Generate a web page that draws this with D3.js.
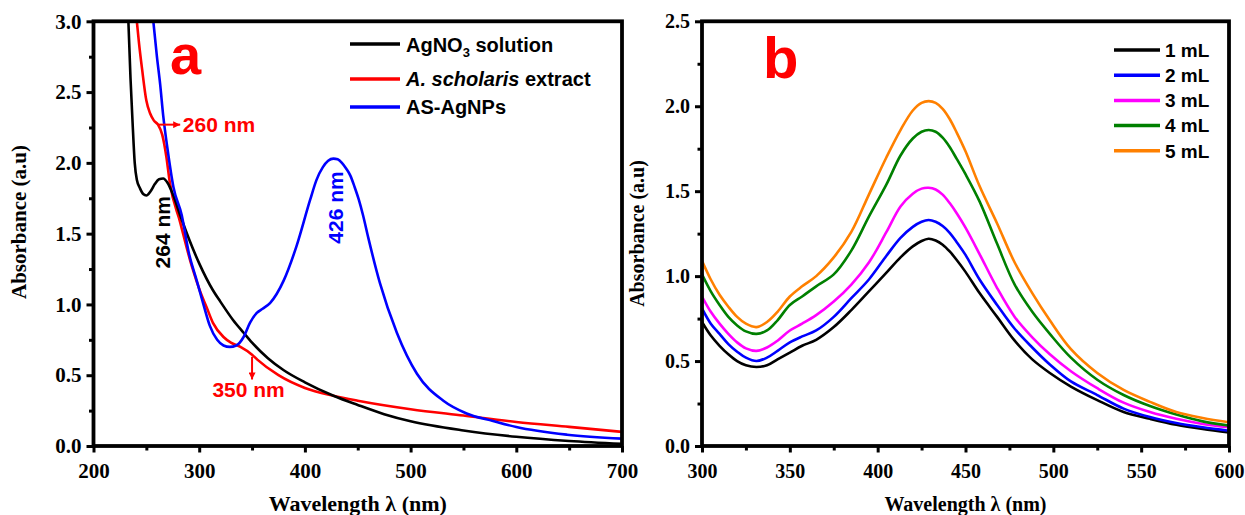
<!DOCTYPE html>
<html>
<head>
<meta charset="utf-8">
<script src="https://cdn.jsdelivr.net/npm/d3@7"></script>
<style>
  body { margin: 0; background: #fff; }
</style>
</head>
<body>
<svg id="chart" width="1245" height="515"></svg>
<script>
// ---- panel a : spectra of precursor, extract and nanoparticles ----
const waveAgNO3 = [231, 233, 235, 237, 239, 241, 244, 247, 250, 254, 258, 262, 266, 270, 275, 282, 291, 300, 313, 320, 332, 342, 350, 365, 380, 400, 427, 450, 475, 500, 550, 600, 650, 700];
const absAgNO3 = [3.5, 3.0, 2.6, 2.28, 2.0, 1.88, 1.82, 1.78, 1.77, 1.80, 1.85, 1.885, 1.89, 1.86, 1.78, 1.63, 1.45, 1.29, 1.10, 1.02, 0.89, 0.80, 0.73, 0.62, 0.535, 0.45, 0.355, 0.29, 0.225, 0.175, 0.11, 0.065, 0.035, 0.015];

const waveExtract = [236, 241, 243, 246, 250, 253.5, 257, 261, 265, 269, 272, 282, 293, 301, 307, 313, 323, 330, 339, 350, 355, 375, 400, 427, 450, 500, 550, 600, 650, 700];
const absExtract = [3.4, 3.0, 2.85, 2.66, 2.44, 2.35, 2.30, 2.27, 2.20, 2.04, 1.87, 1.58, 1.27, 1.09, 0.98, 0.87, 0.77, 0.73, 0.70, 0.645, 0.61, 0.50, 0.41, 0.355, 0.32, 0.26, 0.215, 0.17, 0.135, 0.10];

const waveAgNPs = [252, 256.6, 260, 263, 266, 270, 275.6, 283.5, 290, 298, 304, 310, 317, 323, 329, 335, 342, 348, 354.5, 360, 367, 380, 392, 405, 411, 417, 422, 427, 431, 435, 439, 443, 447, 451, 455, 460, 471, 487, 506, 531, 553, 578, 600, 648, 700];
const absAgNPs = [3.4, 3.0, 2.75, 2.56, 2.33, 2.10, 1.83, 1.63, 1.37, 1.16, 1.0, 0.85, 0.75, 0.71, 0.70, 0.71, 0.77, 0.87, 0.94, 0.97, 1.01, 1.17, 1.41, 1.74, 1.88, 1.97, 2.015, 2.03, 2.025, 2.0, 1.96, 1.91, 1.83, 1.74, 1.63, 1.47, 1.15, 0.80, 0.51, 0.32, 0.23, 0.177, 0.134, 0.08, 0.052];

const xTicksA = [200, 300, 400, 500, 600, 700];
const xMinorA = [250, 350, 450, 550, 650];
const yTicksA = [0, 0.5, 1.0, 1.5, 2.0, 2.5, 3.0];
const yMinorA = [0.25, 0.75, 1.25, 1.75, 2.25, 2.75];

// ---- panel b : effect of extract volume ----
const waveVolume = [300, 305, 310, 315, 320, 325, 331, 337, 343, 350, 357, 365, 375, 385, 395, 405, 413, 420, 425, 429, 433, 437, 441, 445, 450, 458, 468, 478, 488, 498, 510, 525, 540, 555, 570, 585, 600];
const abs1mL = [0.73, 0.65, 0.59, 0.54, 0.50, 0.475, 0.465, 0.475, 0.51, 0.55, 0.59, 0.625, 0.70, 0.80, 0.91, 1.02, 1.11, 1.175, 1.207, 1.22, 1.21, 1.185, 1.145, 1.095, 1.025, 0.90, 0.76, 0.62, 0.51, 0.43, 0.35, 0.27, 0.20, 0.16, 0.125, 0.10, 0.08];
const abs2mL = [0.81, 0.72, 0.66, 0.60, 0.555, 0.52, 0.50, 0.52, 0.56, 0.61, 0.645, 0.68, 0.76, 0.87, 0.98, 1.12, 1.225, 1.29, 1.32, 1.33, 1.32, 1.295, 1.255, 1.20, 1.125, 0.98, 0.83, 0.69, 0.58, 0.48, 0.38, 0.30, 0.22, 0.17, 0.135, 0.11, 0.09];
const abs3mL = [0.88, 0.79, 0.72, 0.66, 0.61, 0.575, 0.56, 0.58, 0.62, 0.68, 0.72, 0.77, 0.85, 0.95, 1.08, 1.26, 1.41, 1.485, 1.515, 1.52, 1.51, 1.48, 1.43, 1.37, 1.285, 1.13, 0.93, 0.76, 0.64, 0.54, 0.44, 0.34, 0.255, 0.20, 0.16, 0.13, 0.11];
const abs4mL = [1.01, 0.91, 0.83, 0.76, 0.71, 0.675, 0.66, 0.68, 0.74, 0.83, 0.88, 0.94, 1.01, 1.15, 1.35, 1.54, 1.71, 1.81, 1.85, 1.86, 1.85, 1.815, 1.76, 1.69, 1.60, 1.44, 1.19, 0.95, 0.79, 0.66, 0.52, 0.39, 0.30, 0.235, 0.185, 0.145, 0.12];
const abs5mL = [1.09, 0.98, 0.89, 0.82, 0.76, 0.72, 0.70, 0.73, 0.79, 0.88, 0.94, 1.00, 1.11, 1.26, 1.48, 1.70, 1.86, 1.975, 2.02, 2.03, 2.02, 1.985, 1.925, 1.845, 1.735, 1.53, 1.31, 1.08, 0.90, 0.74, 0.57, 0.43, 0.33, 0.26, 0.20, 0.165, 0.14];
const volumeLabels = ['1 mL', '2 mL', '3 mL', '4 mL', '5 mL'];

const xTicksB = [300, 350, 400, 450, 500, 550, 600];
const xMinorB = [325, 375, 425, 475, 525, 575];
const yTicksB = [0, 0.5, 1.0, 1.5, 2.0, 2.5];
const yMinorB = [0.25, 0.75, 1.25, 1.75, 2.25];

var svg = d3.select('#chart');
var serif = '"Liberation Serif", "Times New Roman", serif';
var sans = '"Liberation Sans", Arial, sans-serif';

function panelRegion(name) {
    if (name === 'a') {
        return { id: 'a', left: 93.5, right: 622, top: 21.3, bottom: 446,
                 xDomain: [200, 700], yDomain: [0, 3], tickFont: 21, titleFont: 22,
                 curve: d3.curveMonotoneX };
    }
    return { id: 'b', left: 702, right: 1229, top: 21.3, bottom: 446,
             xDomain: [300, 600], yDomain: [0, 2.5], tickFont: 20, titleFont: 20,
             curve: d3.curveCatmullRom.alpha(0.5) };
}

function setScale(p) {
    return {
        x: d3.scaleLinear().domain(p.xDomain).range([p.left, p.right]),
        y: d3.scaleLinear().domain(p.yDomain).range([p.bottom, p.top])
    };
}

function drawAxes(p, scale, xTicks, xMinor, yTicks, yMinor) {
    var g = svg.append('g');
    g.append('g')
        .attr('transform', 'translate(0,' + p.bottom + ')')
        .call(d3.axisBottom(scale.x).tickValues(xMinor).tickSize(4.5).tickFormat(''));
    g.append('g')
        .attr('transform', 'translate(0,' + p.bottom + ')')
        .call(d3.axisBottom(scale.x).tickValues(xTicks).tickSize(6.5).tickPadding(11).tickFormat(d3.format('d')));
    g.append('g')
        .attr('transform', 'translate(' + p.left + ',0)')
        .call(d3.axisLeft(scale.y).tickValues(yMinor).tickSize(4.5).tickFormat(''));
    g.append('g')
        .attr('transform', 'translate(' + p.left + ',0)')
        .call(d3.axisLeft(scale.y).tickValues(yTicks).tickSize(7).tickPadding(5).tickFormat(d3.format('.1f')));

    g.selectAll('.domain').remove();
    g.selectAll('.tick line').attr('stroke', '#000').attr('stroke-width', 3);
    g.selectAll('.tick text')
        .attr('fill', '#000')
        .attr('font-family', serif)
        .attr('font-weight', 'bold')
        .attr('font-size', p.tickFont);

    // axis titles
    var midX = (p.left + p.right) / 2;
    svg.append('text')
        .text('Wavelength λ (nm)')
        .attr('x', midX)
        .attr('y', 511)
        .attr('text-anchor', 'middle')
        .attr('font-family', serif)
        .attr('font-weight', 'bold')
        .attr('font-size', p.titleFont);
    var titleX = p.id === 'a' ? 26 : 643.5;
    var titleY = p.id === 'a' ? 222 : 233.5;
    svg.append('text')
        .text('Absorbance (a.u)')
        .attr('transform', 'translate(' + titleX + ',' + titleY + ') rotate(-90)')
        .attr('text-anchor', 'middle')
        .attr('font-family', serif)
        .attr('font-weight', 'bold')
        .attr('font-size', p.id === 'a' ? 21 : 20);
}

function drawFrame(p) {
    svg.append('rect')
        .attr('x', p.left)
        .attr('y', p.top)
        .attr('width', p.right - p.left)
        .attr('height', p.bottom - p.top)
        .attr('fill', 'none')
        .attr('stroke', '#000')
        .attr('stroke-width', 3.8);
}

function addClip(p) {
    svg.append('clipPath')
        .attr('id', 'clip-' + p.id)
        .append('rect')
            .attr('x', p.left)
            .attr('y', p.top)
            .attr('width', p.right - p.left)
            .attr('height', p.bottom - p.top);
}

function drawLine(p, scale, waves, values, color, width) {
    var line = d3.line()
        .x((d) => { return scale.x(d[0]); })
        .y((d) => { return scale.y(d[1]); })
        .curve(p.curve);
    svg.append('path')
        .datum(d3.zip(waves, values))
        .attr('clip-path', 'url(#clip-' + p.id + ')')
        .attr('d', line)
        .attr('fill', 'none')
        .attr('stroke', color)
        .attr('stroke-width', width)
        .attr('stroke-linejoin', 'round');
}

// arrow head for the peak call-outs
svg.append('defs').append('marker')
    .attr('id', 'arrowRed')
    .attr('viewBox', '0 0 10 10')
    .attr('refX', 10)
    .attr('refY', 5)
    .attr('markerUnits', 'userSpaceOnUse')
    .attr('markerWidth', 9)
    .attr('markerHeight', 7)
    .attr('orient', 'auto')
    .append('path')
        .attr('d', 'M0,0 L10,5 L0,10 z')
        .attr('fill', '#ff0000');

// ---------------- panel a ----------------
var pA = panelRegion('a');
var sA = setScale(pA);
addClip(pA);
drawAxes(pA, sA, xTicksA, xMinorA, yTicksA, yMinorA);
drawLine(pA, sA, waveExtract, absExtract, '#ff0000', 2.6);
drawLine(pA, sA, waveAgNO3, absAgNO3, '#000000', 2.6);
drawLine(pA, sA, waveAgNPs, absAgNPs, '#0000ff', 2.6);
drawFrame(pA);

// call-outs (anchored in data units)
svg.append('line')
    .attr('x1', sA.x(261)).attr('y1', sA.y(2.27))
    .attr('x2', sA.x(282)).attr('y2', sA.y(2.27))
    .attr('stroke', '#ff0000').attr('stroke-width', 2)
    .attr('marker-end', 'url(#arrowRed)');
svg.append('line')
    .attr('x1', sA.x(350)).attr('y1', sA.y(0.63))
    .attr('x2', sA.x(350)).attr('y2', sA.y(0.47))
    .attr('stroke', '#ff0000').attr('stroke-width', 2)
    .attr('marker-end', 'url(#arrowRed)');

function addNote(txt, x, y, color, rotate, anchor) {
    svg.append('text')
        .text(txt)
        .attr('transform', 'translate(' + x + ',' + y + ')' + (rotate ? ' rotate(-90)' : ''))
        .attr('text-anchor', anchor)
        .attr('fill', color)
        .attr('font-family', sans)
        .attr('font-weight', 'bold')
        .attr('font-size', 21);
}
addNote('260 nm', sA.x(284.5), sA.y(2.22), '#ff0000', false, 'start');
addNote('350 nm', sA.x(312.5), sA.y(0.345), '#ff0000', false, 'start');
addNote('264 nm', sA.x(272.4), sA.y(1.51), '#000000', true, 'middle');
addNote('426 nm', sA.x(436), sA.y(1.685), '#0000ff', true, 'middle');

svg.append('text')
    .text('a')
    .attr('x', 170)
    .attr('y', 74)
    .attr('fill', '#ff0000')
    .attr('font-family', sans)
    .attr('font-weight', 'bold')
    .attr('font-size', 56);

// legend a
var legendA = svg.append('g').attr('font-family', sans).attr('font-weight', 'bold').attr('font-size', 20);
var legendRowsA = [44, 79, 107];
var legendColorsA = ['#000000', '#ff0000', '#0000ff'];
legendRowsA.forEach((yy, i) => {
    legendA.append('line')
        .attr('x1', 350).attr('x2', 400)
        .attr('y1', yy).attr('y2', yy)
        .attr('stroke', legendColorsA[i]).attr('stroke-width', 3.5);
});
var t0 = legendA.append('text').attr('x', 406).attr('y', 51.5);
t0.append('tspan').text('AgNO');
t0.append('tspan').text('3').attr('font-size', 13).attr('dy', 5);
t0.append('tspan').text(' solution').attr('dy', -5);
var t1 = legendA.append('text').attr('x', 406).attr('y', 86);
t1.append('tspan').text('A. scholaris').attr('font-style', 'italic');
t1.append('tspan').text(' extract');
legendA.append('text').attr('x', 406).attr('y', 114).text('AS-AgNPs');

// ---------------- panel b ----------------
var pB = panelRegion('b');
var sB = setScale(pB);
addClip(pB);
drawAxes(pB, sB, xTicksB, xMinorB, yTicksB, yMinorB);
var volumeSeries = [abs1mL, abs2mL, abs3mL, abs4mL, abs5mL];
var volumeColors = ['#000000', '#0000ff', '#ff00ff', '#008000', '#ff8000'];
volumeSeries.forEach((vals, i) => {
    drawLine(pB, sB, waveVolume, vals, volumeColors[i], 2.6);
});
drawFrame(pB);

svg.append('text')
    .text('b')
    .attr('x', 763)
    .attr('y', 78)
    .attr('fill', '#ff0000')
    .attr('font-family', sans)
    .attr('font-weight', 'bold')
    .attr('font-size', 58);

var legendB = svg.append('g').attr('font-family', sans).attr('font-weight', 'bold').attr('font-size', 19);
volumeLabels.forEach((lab, i) => {
    var yy = 50 + i * 25.2;
    legendB.append('line')
        .attr('x1', 1114).attr('x2', 1160)
        .attr('y1', yy).attr('y2', yy)
        .attr('stroke', volumeColors[i]).attr('stroke-width', 3.5);
    legendB.append('text')
        .attr('x', 1165).attr('y', yy + 6.8)
        .text(lab);
});
</script>
</body>
</html>
